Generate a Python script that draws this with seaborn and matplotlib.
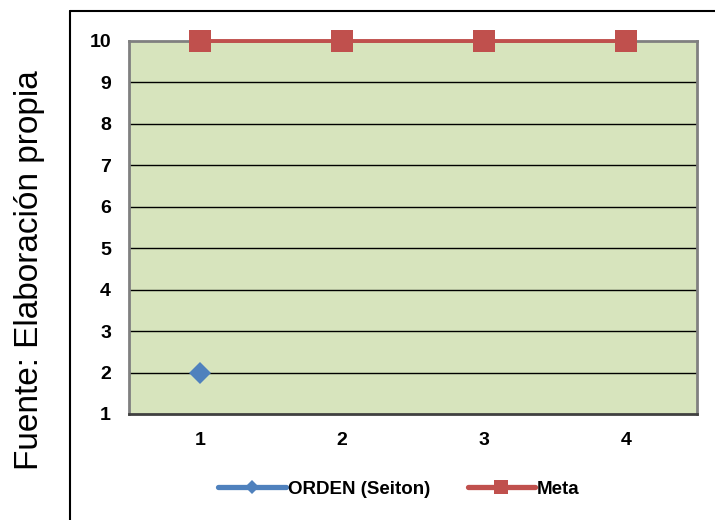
import numpy as np
import pandas as pd
import matplotlib
matplotlib.use("Agg")
import matplotlib.pyplot as plt
from matplotlib.lines import Line2D
import seaborn as sns

# Data
categorias = [1, 2, 3, 4]
orden_seiton = [2, np.nan, np.nan, np.nan]
meta = [10, 10, 10, 10]
y_ticks = list(range(1, 11))

sns.set_style("white")
plt.rcParams["font.family"] = ["Liberation Sans", "DejaVu Sans"]
plt.rcParams["text.color"] = "black"
plt.rcParams["xtick.color"] = "black"
plt.rcParams["ytick.color"] = "black"

fig = plt.figure(figsize=(7.15, 5.2), dpi=100)
W, H = 715, 520
ax = fig.add_axes([129 / W, 1 - 414 / H, (697 - 129) / W, (414 - 41) / H])
ax.set_facecolor("#d7e4bd")

df = pd.DataFrame({"x": np.arange(len(categorias)), "ORDEN": orden_seiton, "Meta": meta})

for yv in y_ticks[1:-1]:
    ax.axhline(yv, color="black", lw=1.0, zorder=1)

sns.lineplot(data=df, x="x", y="ORDEN", ax=ax, color="#4f81bd", lw=3.5,
             marker="D", markersize=11, markeredgewidth=0, zorder=3, legend=False)
sns.lineplot(data=df, x="x", y="Meta", ax=ax, color="#c0504d", lw=2.8,
             marker="s", markersize=16, markeredgewidth=0, zorder=4, legend=False,
             clip_on=False)

ax.set_xlim(-0.5, len(categorias) - 0.5)
ax.set_ylim(1, 10)
ax.set_xticks(np.arange(len(categorias)))
ax.set_xticklabels([str(c) for c in categorias], fontsize=14, fontweight="bold")
ax.set_yticks(y_ticks)
ax.set_yticklabels([str(v) for v in y_ticks], fontsize=14, fontweight="bold")
ax.tick_params(axis="x", length=0, pad=13)
ax.tick_params(axis="y", length=0, pad=13)
ax.set_xlabel("")
ax.set_ylabel("")
for side in ["left", "right", "top"]:
    ax.spines[side].set_color("#808080")
    ax.spines[side].set_linewidth(2)
ax.spines["bottom"].set_color("#404040")
ax.spines["bottom"].set_linewidth(2)

# Outer chart frame
fig.add_artist(Line2D([70 / W, 70 / W], [0, 1 - 11 / H], color="black", lw=1.5,
                      transform=fig.transFigure))
fig.add_artist(Line2D([70 / W, 1], [1 - 11 / H, 1 - 11 / H], color="black", lw=1.5,
                      transform=fig.transFigure))

# Legend
handles = [
    Line2D([], [], color="#4f81bd", lw=3.8, marker="D", markersize=7, markeredgewidth=0),
    Line2D([], [], color="#c0504d", lw=3.8, marker="s", markersize=10, markeredgewidth=0),
]
fig.legend(handles, ["ORDEN (Seiton)", "Meta"], loc="center", bbox_to_anchor=(399 / W, 1 - 489 / H),
           ncol=2, frameon=False, prop={"size": 13.5, "weight": "bold"},
           handlelength=3.6, handletextpad=0.1, columnspacing=2.0)

fig.text(30 / W, 1 - 270 / H, "Fuente: Elaboración propia", rotation=90,
         ha="center", va="center", fontsize=24)

fig.savefig("out.png", dpi=100)
